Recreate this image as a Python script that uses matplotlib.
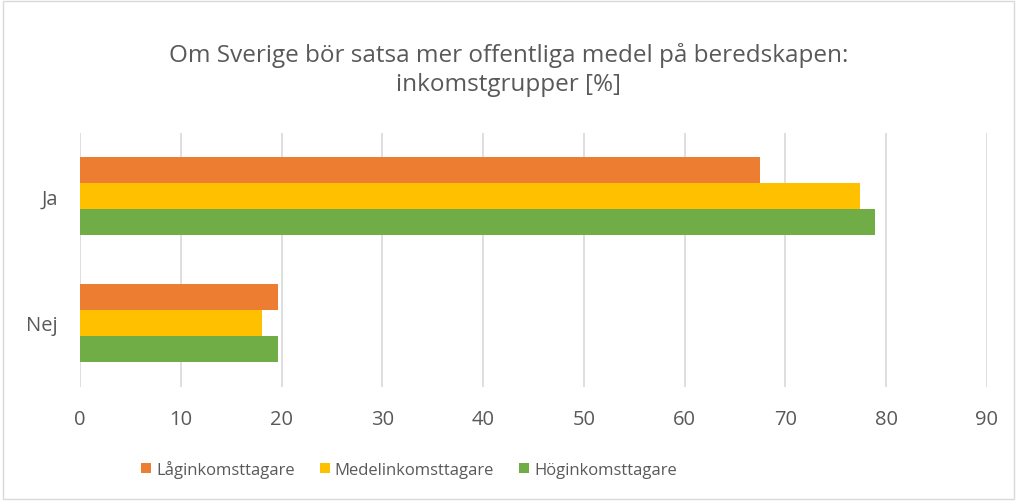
import matplotlib.pyplot as plt
import numpy as np
from matplotlib.patches import Rectangle

categories = ["Ja", "Nej"]
series_names = ["Låginkomsttagare", "Medelinkomsttagare", "Höginkomsttagare"]
lag = [67.5, 19.6]
medel = [77.4, 18.1]
hog = [78.9, 19.6]
colors = ["#ED7D31", "#FFC000", "#70AD47"]
xticks = [0, 10, 20, 30, 40, 50, 60, 70, 80, 90]

plt.rcParams["font.family"] = ["Open Sans", "DejaVu Sans"]
text_color = "#595959"

fig = plt.figure(figsize=(10.17, 5.02), dpi=100)
ax = fig.add_axes([80 / 1017, 1 - 387.5 / 502, 907 / 1017, 254 / 502])

h = 0.207
y = np.arange(len(categories))
for i, (vals, name) in enumerate(zip([lag, medel, hog], series_names)):
    ax.barh(y + (i - 1) * h, vals, height=h, color=colors[i], label=name, zorder=3)

ax.set_xlim(0, 90)
ax.set_ylim(1.5, -0.5)
ax.set_xticks(xticks)
ax.set_yticks(y)
ax.set_yticklabels(categories)
ax.grid(axis="x", color="#d9d9d9", linewidth=1.2, zorder=0)
for s in ax.spines.values():
    s.set_visible(False)
ax.tick_params(length=0, labelsize=14.5, colors=text_color)
ax.tick_params(axis="x", pad=16)
ax.tick_params(axis="y", pad=16)

fig.text(0.5, 1 - 70 / 502,
         "Om Sverige bör satsa mer offentliga medel på beredskapen:\ninkomstgrupper [%]",
         ha="center", va="center", fontsize=17.5, color=text_color, linespacing=1.25)

leg = fig.legend(loc="center", bbox_to_anchor=(409 / 1017, 1 - 470 / 502), ncol=3, frameon=False,
                 fontsize=12, handlelength=0.6, handleheight=0.6, handletextpad=0.3,
                 columnspacing=1.5, labelcolor=text_color)

fig.patches.append(Rectangle((0.003, 0.003), 0.994, 0.994, transform=fig.transFigure,
                             fill=False, edgecolor="#d9d9d9", linewidth=1))

fig.savefig("out.png", dpi=100)
